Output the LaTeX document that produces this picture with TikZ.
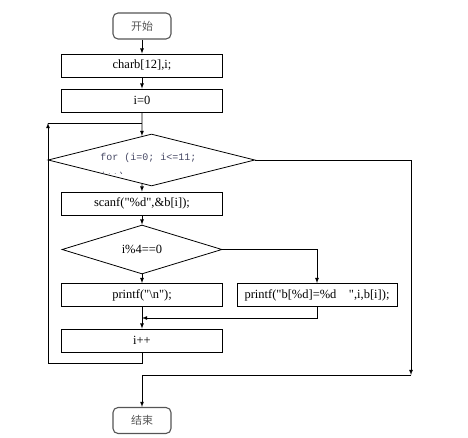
\documentclass[tikz,border=0pt]{standalone}
\usepackage{fontspec}
\setmainfont{Liberation Serif}
\newfontfamily\cjkfont{Noto Sans CJK SC}
\newfontfamily\condfont{Liberation Mono}
\usetikzlibrary{shapes.geometric,calc}
\tikzstyle{chart} = [x = 1pt, y = -1pt, >=latex, line width = .8pt]
\definecolor{termColor}{RGB}{85,85,85}
\definecolor{condColor}{RGB}{70,72,100}
\tikzstyle{stepStyle} = [draw, rectangle, minimum width = 161pt, minimum height = 23pt, inner sep = 0pt, font = \fontsize{12.5}{14}\selectfont]
\tikzstyle{termStyle} = [draw = termColor, rectangle, rounded corners = 5pt, line width = 1.1pt, minimum width = 58pt, minimum height = 26pt, text = termColor, font = \cjkfont\fontsize{11}{13}\selectfont]
\tikzstyle{testStyle} = [draw, diamond, inner sep = 0pt, font = \fontsize{12.5}{14}\selectfont]
\tikzstyle{condText} = [text = condColor, align = left, inner sep = 0pt, font = \condfont\fontsize{10}{19}\selectfont]
\newcommand{\q}{\textquotedbl}
\newcommand{\stepBox}[4]{\node [stepStyle] (#1) at (#2, #3) {#4};}
\newcommand{\termBox}[4]{\node [termStyle] (#1) at (#2, #3) {#4};}

\begin{document}
\begin{tikzpicture}[chart]
  \useasboundingbox (0,0) rectangle (468,438);
  % boxes
  \termBox{begin}{142}{26}{开始}
  \stepBox{decl}{142}{65.5}{charb[12],i;}
  \stepBox{init}{142}{100.5}{i=0}
  \node [testStyle, minimum width = 207pt, minimum height = 52pt] (loopTest) at (151.5,160) {};
  \begin{scope}
    \clip (loopTest.west |- 0,140) rectangle (loopTest.east |- 0,173.5);
    \node [condText] (loopCond) at (148.5,167.5) {for (i=0; i<=11;\\i++)};
  \end{scope}
  \stepBox{scan}{142}{203.5}{scanf(\q\%d\q,\&b[i]);}
  \node [testStyle, minimum width = 160pt, minimum height = 45pt] (modTest) at (142,249.5) {i\%4==0};
  \stepBox{newline}{142}{295}{printf(\q\textbackslash n\q);}
  \node [stepStyle, minimum width = 160pt] (show) at (317,295) {printf(\q b[\%d]=\%d\ \ \ \ \q,i,b[i]);};
  \stepBox{inc}{142}{340.5}{i++}
  \termBox{finish}{142}{420.5}{结束}

  % connectors
  \coordinate (testIn) at ($(loopTest.north)!0.092!(loopTest.west)$);
  \coordinate (testOut) at ($(loopTest.south)!0.092!(loopTest.west)$);
  \coordinate (loopTop) at (48,123);
  \coordinate (join) at (142,318);
  \coordinate (exitCorner) at (411,375);
  \draw [->] (begin) -- (decl);
  \draw [->] (decl) -- (init);
  \draw [->] (init) -- (testIn);
  \draw [->] (testOut) -- (scan);
  \draw [->] (scan) -- (modTest);
  \draw [->] (modTest) -- (newline);
  \draw [->] (modTest.east) -| (show.north);
  \draw [->] (show.south) |- (join);
  \draw [->] (newline) -- (inc);
  \draw [->] (inc.south) -- ++(0,11) -| (loopTop);
  \draw (loopTop) -- (init.south |- loopTop);
  \draw [->] (loopTest.east) -| (exitCorner);
  \draw [->] (exitCorner) -| (finish);
\end{tikzpicture}
\end{document}
